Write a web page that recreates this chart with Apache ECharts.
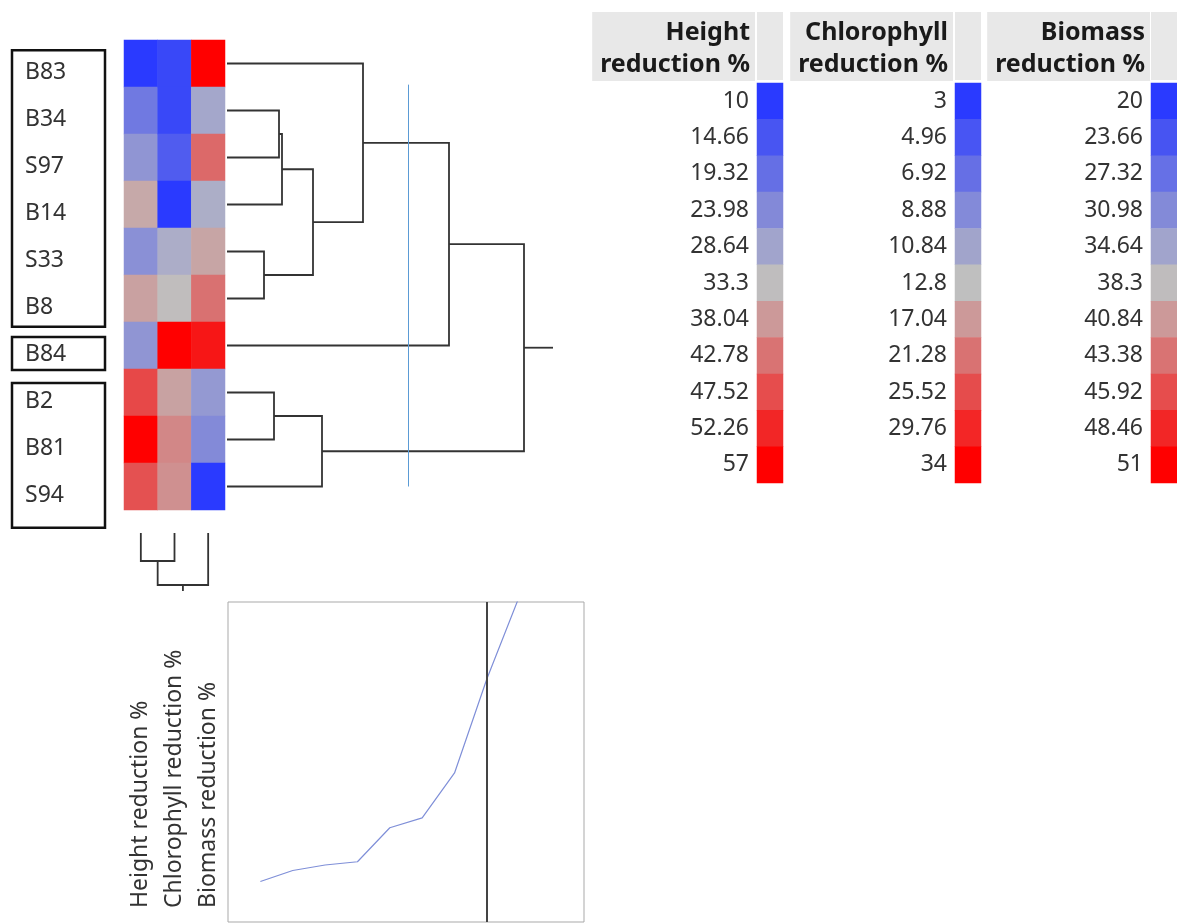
<!DOCTYPE html>
<html>
<head>
<meta charset="utf-8">
<script src="https://cdn.jsdelivr.net/npm/echarts@6/dist/echarts.min.js"></script>
<style>
  html, body { margin: 0; padding: 0; background: #fff; }
  #main { width: 1177px; height: 924px; }
</style>
</head>
<body>
<div id="main"></div>
<script>
var rowNames = ['B83', 'B34', 'S97', 'B14', 'S33', 'B8', 'B84', 'B2', 'B81', 'S94'];
var colNames = ['Height reduction %', 'Chlorophyll reduction %', 'Biomass reduction %'];

// cell values, one list per column, in row order
var heightVals = [10, 21, 26, 36, 25, 37, 26, 48, 57, 47];
var chlorophyllVals = [4, 4, 5.5, 3, 11.5, 13, 34, 16, 19, 18];
var biomassVals = [51, 35, 44, 36, 40, 43.5, 49.5, 33, 31, 20];

// colour legend ticks (min .. mean .. max)
var heightTicks = [10, 14.66, 19.32, 23.98, 28.64, 33.3, 38.04, 42.78, 47.52, 52.26, 57];
var chlorophyllTicks = [3, 4.96, 6.92, 8.88, 10.84, 12.8, 17.04, 21.28, 25.52, 29.76, 34];
var biomassTicks = [20, 23.66, 27.32, 30.98, 34.64, 38.3, 40.84, 43.38, 45.92, 48.46, 51];

// joins: [a, b, distance]; 0..9 are rows, 10+ are earlier joins in order
var rowJoins = [[4, 5, 3.7], [7, 8, 4.7], [1, 2, 5.2], [12, 3, 5.5], [13, 10, 8.6],
                [11, 9, 9.5], [0, 14, 13.6], [16, 6, 22.2], [17, 15, 29.7]];
var colJoins = [[0, 1, 2.8], [3, 2, 5.2]];
var rowClusters = [[0, 5], [6, 6], [7, 9]];
var cutDistance = 18.1;

var FONT = 'Noto Sans';
var BLUE = [42, 58, 255], GRAY = [191, 191, 191], RED = [255, 0, 0];

function mix(a, b, f) {
  var c = a.map(function (v, i) { return Math.round(v + (b[i] - v) * f); });
  return 'rgb(' + c.join(',') + ')';
}
// blue -> gray at mean -> red
function scaleColors(t) {
  var lo = t[0], mid = t[5], hi = t[10], out = [];
  for (var k = 0; k <= 60; k++) {
    var v = lo + (hi - lo) * k / 60;
    if (v < mid) out.push(mix(BLUE, GRAY, (v - lo) / (mid - lo)));
    else out.push(mix(GRAY, RED, (v - mid) / (hi - mid)));
  }
  return out;
}

function treeItems(n, joins, stub) {
  var pos = [], items = [];
  for (var i = 0; i < n; i++) pos.push([0, i + 0.5]);
  joins.forEach(function (j) {
    var a = pos[j[0]], b = pos[j[1]], d = j[2];
    items.push([a[0], a[1], d, b[1], b[0]]);
    pos.push([d, (a[1] + b[1]) / 2]);
  });
  var r = pos[pos.length - 1];
  items.push([r[0], r[1], stub, r[1], stub]);
  return items;
}

function treeRender(vertical) {
  return function (params, api) {
    var v = [0, 1, 2, 3, 4].map(function (k) { return api.value(k); });
    var pts = vertical
      ? [[v[1], v[0]], [v[1], v[2]], [v[3], v[2]], [v[3], v[4]]]
      : [[v[0], v[1]], [v[2], v[1]], [v[2], v[3]], [v[4], v[3]]];
    return {
      type: 'polyline',
      shape: { points: pts.map(function (p) { return api.coord(p); }) },
      style: { stroke: '#333', lineWidth: 1.8, fill: null }
    };
  };
}

var colVals = [heightVals, chlorophyllVals, biomassVals];
var colTicks = [heightTicks, chlorophyllTicks, biomassTicks];
var legendLeft = [757, 955, 1151];
var headerTextRight = [750, 948, 1145];

var hidden = { show: false };
var grids = [
  { left: 124, top: 40, width: 101, height: 470 },   // heatmap
  { left: 227, top: 40, width: 330, height: 470 },   // row tree
  { left: 124, top: 533, width: 101, height: 60 },   // column tree
  { left: 12, top: 40, width: 93, height: 470 },     // label boxes
  { left: 228, top: 602, width: 356, height: 320, show: true, borderColor: '#a9a9a9', borderWidth: 1 }
];
legendLeft.forEach(function (x) { grids.push({ left: x, top: 83, width: 26, height: 400 }); });
grids.push({ left: 124, top: 49, width: 101, height: 470 });  // row names, set a little low as in JMP
grids.forEach(function (g) { g.containLabel = false; g.outerBoundsMode = 'none'; });

var xAxes = [
  { gridIndex: 0, type: 'category', data: colNames, axisLine: hidden, axisTick: hidden,
    axisLabel: { interval: 0, rotate: 90, align: 'left', verticalAlign: 'middle', margin: 398,
                 fontSize: 23, color: '#333', fontFamily: FONT } },
  { gridIndex: 1, type: 'value', min: 0, max: 33, show: false },
  { gridIndex: 2, type: 'value', min: 0, max: 3, show: false },
  { gridIndex: 3, type: 'value', min: 0, max: 1, show: false },
  { gridIndex: 4, type: 'value', min: 0, max: 11, show: false }
];
var yAxes = [
  { gridIndex: 0, type: 'category', data: rowNames, inverse: true, show: false },
  { gridIndex: 1, type: 'value', min: 0, max: 10, inverse: true, show: false },
  { gridIndex: 2, type: 'value', min: 0, max: 6, inverse: true, show: false },
  { gridIndex: 3, type: 'value', min: 0, max: 10, inverse: true, show: false },
  { gridIndex: 4, type: 'value', min: 0, max: 29.2, show: false }
];
colTicks.forEach(function (t, c) {
  xAxes.push({ gridIndex: 5 + c, type: 'category', data: ['v'], show: false });
  yAxes.push({ gridIndex: 5 + c, type: 'category', inverse: true, data: t.map(String),
    axisLine: hidden, axisTick: hidden,
    axisLabel: { margin: 8, fontSize: 23, color: '#333', fontFamily: FONT } });
});
xAxes.push({ gridIndex: 8, type: 'value', show: false });
yAxes.push({ gridIndex: 8, type: 'category', data: rowNames, inverse: true, axisLine: hidden, axisTick: hidden,
  axisLabel: { align: 'left', margin: 99, fontSize: 23, color: '#333', fontFamily: FONT } });

var series = [];
colVals.forEach(function (vals, c) {
  series.push({ type: 'heatmap', xAxisIndex: 0, yAxisIndex: 0,
    data: vals.map(function (v, i) { return [c, i, v]; }) });
});
colTicks.forEach(function (t, c) {
  series.push({ type: 'heatmap', xAxisIndex: 5 + c, yAxisIndex: 5 + c,
    data: t.map(function (v, i) { return [0, i, v]; }) });
});
series.push({
  type: 'custom', xAxisIndex: 1, yAxisIndex: 1, silent: true,
  data: treeItems(rowNames.length, rowJoins, 32.6),
  encode: { x: [0, 2, 4], y: [1, 3] },
  renderItem: treeRender(false),
  markLine: { silent: true, symbol: 'none', label: hidden,
    lineStyle: { color: '#5b9bd5', width: 1, type: 'solid' },
    data: [[{ coord: [cutDistance, 0.95] }, { coord: [cutDistance, 9.5] }]] }
});
series.push({
  type: 'custom', xAxisIndex: 2, yAxisIndex: 2, silent: true,
  data: treeItems(colNames.length, colJoins, 5.8),
  encode: { x: [1, 3], y: [0, 2, 4] },
  renderItem: treeRender(true)
});
// boxes round the clusters, padded a little below the rows
var boxPad = [[0.22, 0.1], [0.32, 0.02], [0.3, 0.38]];
series.push({
  type: 'custom', xAxisIndex: 3, yAxisIndex: 3, silent: true,
  data: rowClusters.map(function (c, i) { return [c[0] + boxPad[i][0], c[1] + 1 + boxPad[i][1]]; }),
  encode: { y: [0, 1] },
  renderItem: function (params, api) {
    var p0 = api.coord([0, api.value(0)]), p1 = api.coord([1, api.value(1)]);
    return { type: 'rect', shape: { x: p0[0], y: p0[1], width: p1[0] - p0[0], height: p1[1] - p0[1] },
      style: { stroke: '#111', lineWidth: 2.5, fill: null } };
  }
});
var steps = rowJoins.map(function (j) { return j[2]; }).sort(function (a, b) { return a - b; });
series.push({
  type: 'line', xAxisIndex: 4, yAxisIndex: 4, silent: true, symbol: 'none',
  lineStyle: { color: '#7f8fd8', width: 1.2 },
  data: steps.map(function (d, i) { return [i + 1, d]; }),
  markLine: { silent: true, symbol: 'none', label: hidden,
    lineStyle: { color: '#444', width: 2, type: 'solid' },
    data: [{ xAxis: rowNames.length - rowClusters.length + 1 }] }
});

var visualMaps = colTicks.map(function (t, c) {
  return { type: 'continuous', show: false, dimension: 2, seriesIndex: [c, 3 + c],
    min: t[0], max: t[10], inRange: { color: scaleColors(t) } };
});

var titles = colNames.map(function (n, c) {
  return { text: n.replace(' reduction', '\nreduction'), left: headerTextRight[c] - 8, top: 12,
    textAlign: 'right', backgroundColor: '#e8e8e8', padding: [5, 5, 0, 8],
    textStyle: { fontSize: 25, fontWeight: 'bold', lineHeight: 32, color: '#1a1a1a', fontFamily: FONT } };
});

var myChart = echarts.init(document.getElementById('main'));
myChart.setOption({
  backgroundColor: '#fff',
  animation: false,
  title: titles,
  grid: grids,
  xAxis: xAxes,
  yAxis: yAxes,
  visualMap: visualMaps,
  graphic: legendLeft.map(function (x) {
    return { type: 'rect', left: x, top: 12, shape: { width: 26, height: 68 }, style: { fill: '#e8e8e8' } };
  }),
  series: series
});
</script>
</body>
</html>
